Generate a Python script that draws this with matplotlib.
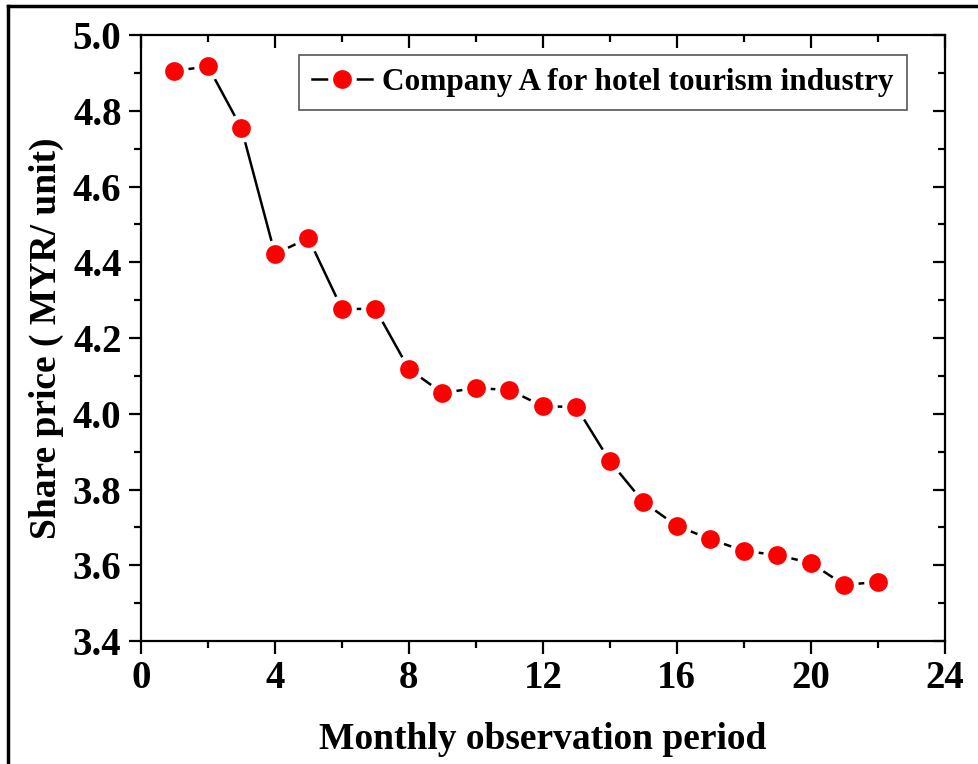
import matplotlib
matplotlib.use("Agg")
import matplotlib.pyplot as plt
from matplotlib.lines import Line2D
from matplotlib.ticker import MultipleLocator

plt.rcParams["font.family"] = ["Liberation Serif", "DejaVu Serif"]
plt.rcParams["font.weight"] = "bold"

# monthly share price
months = [1, 2, 3, 4, 5, 6, 7, 8, 9, 10, 11, 12, 13, 14, 15, 16, 17, 18, 19, 20, 21, 22]
price = [4.905, 4.918, 4.754, 4.422, 4.464, 4.277, 4.277, 4.118, 4.055, 4.068, 4.063,
         4.020, 4.018, 3.875, 3.767, 3.704, 3.669, 3.638, 3.627, 3.606, 3.548, 3.556]
series_name = "Company A for hotel tourism industry"

fig = plt.figure(figsize=(9.79, 7.64), dpi=100)
ax = fig.add_axes([0.144, 0.161, 0.821, 0.793])

ax.plot(months, price, color="black", lw=1.8, marker="o", ms=17,
        mfc="red", mec="white", mew=3.5, label=series_name)

ax.set_xlim(0, 24)
ax.set_ylim(3.4, 5.0)
ax.xaxis.set_major_locator(MultipleLocator(4))
ax.xaxis.set_minor_locator(MultipleLocator(2))
ax.yaxis.set_major_locator(MultipleLocator(0.2))
ax.yaxis.set_minor_locator(MultipleLocator(0.1))
ax.yaxis.set_major_formatter(matplotlib.ticker.FormatStrFormatter("%.1f"))

for s in ax.spines.values():
    s.set_linewidth(1.6)

ax.tick_params(which="both", direction="out", width=1.6, labelsize=28, pad=5)
ax.tick_params(which="major", length=9)
ax.tick_params(which="minor", length=5)
# mirrored ticks on top and right, pointing inward
ax.tick_params(which="both", top=True, right=True)
for t in ax.xaxis.get_major_ticks() + ax.xaxis.get_minor_ticks():
    t.tick2line.set_marker(3)
for t in ax.yaxis.get_major_ticks() + ax.yaxis.get_minor_ticks():
    t.tick2line.set_marker(0)
for lbl in ax.get_xticklabels() + ax.get_yticklabels():
    lbl.set_fontweight("bold")

ax.set_xlabel("Monthly observation period", fontsize=27, fontweight="bold", labelpad=18)
ax.set_ylabel("Share price ( MYR/ unit)", fontsize=27, fontweight="bold", labelpad=6)

handle = Line2D([], [], color="black", lw=1.8, marker="o", ms=17,
                mfc="red", mec="white", mew=3.5)
leg = ax.legend([handle], [series_name], loc="upper right",
                bbox_to_anchor=(0.953, 0.967), fancybox=False, framealpha=1,
                edgecolor="#555555", prop={"size": 22.5, "weight": "bold"},
                handlelength=1.9, handletextpad=0.35, borderpad=0.42,
                borderaxespad=0)
leg.get_frame().set_linewidth(1.2)

# outer frame on the left and top edges of the figure
fig.add_artist(Line2D([0.008, 0.008], [0, 0.992], transform=fig.transFigure,
                      color="black", lw=2.5))
fig.add_artist(Line2D([0.008, 1.0], [0.992, 0.992], transform=fig.transFigure,
                      color="black", lw=2.5))

fig.savefig("out.png", dpi=100)
